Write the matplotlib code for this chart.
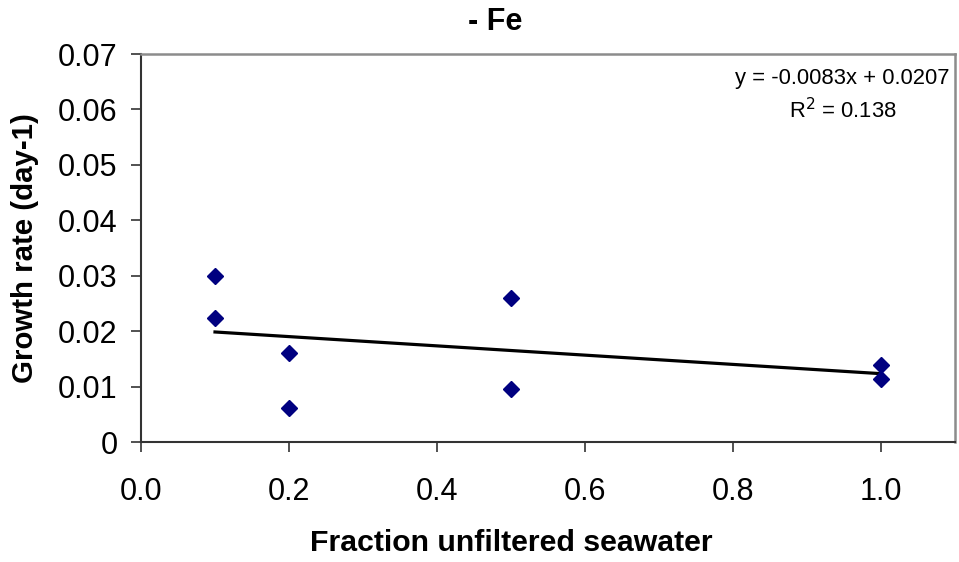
import numpy as np
import matplotlib
matplotlib.use("Agg")
import matplotlib.pyplot as plt

plt.rcParams["font.family"] = ["Liberation Sans", "DejaVu Sans"]

# ── Data ──────────────────────────────────────────────────────────────────────
fraction = [0.1, 0.1, 0.2, 0.2, 0.5, 0.5, 1.0, 1.0]
growth   = [0.030, 0.0223, 0.0161, 0.0062, 0.0260, 0.0095, 0.0139, 0.0114]
x_ticks  = [0.0, 0.2, 0.4, 0.6, 0.8, 1.0]
y_ticks  = [0, 0.01, 0.02, 0.03, 0.04, 0.05, 0.06, 0.07]
y_labels = ["0", "0.01", "0.02", "0.03", "0.04", "0.05", "0.06", "0.07"]

# linear trendline
slope, intercept = np.polyfit(fraction, growth, 1)
x_fit = np.array([min(fraction), max(fraction)])
y_fit = slope * x_fit + intercept

# ── Plot ──────────────────────────────────────────────────────────────────────
fig = plt.figure(figsize=(9.59, 5.62), dpi=100)
ax = fig.add_axes([141 / 959, 1 - 442 / 562, (955 - 141) / 959, (442 - 54) / 562])

ax.plot(x_fit, y_fit, color="black", linewidth=2.3, zorder=2)
ax.plot(fraction, growth, linestyle="none", marker="D", markersize=7.8,
        color="#000080", zorder=3)

ax.set_xlim(0, 1.1)
ax.set_ylim(0, 0.07)
ax.set_xticks(x_ticks)
ax.set_xticklabels([f"{v:.1f}" for v in x_ticks])
ax.set_yticks(y_ticks)
ax.set_yticklabels(y_labels)
ax.tick_params(direction="out", length=7, width=1.2, color="#333333",
               labelsize=22)
ax.tick_params(axis="y", pad=10)
ax.tick_params(axis="x", pad=18)

for side in ("left", "bottom"):
    ax.spines[side].set_color("#333333")
    ax.spines[side].set_linewidth(1.5)
for side in ("top", "right"):
    ax.spines[side].set_color("#8c8c8c")
    ax.spines[side].set_linewidth(1.8)

fig.text(0.516, 0.961, "- Fe", ha="center", va="center",
         fontsize=22, fontweight="bold")
fig.text(0.533, 0.034, "Fraction unfiltered seawater", ha="center",
         va="center", fontsize=21.8, fontweight="bold")
fig.text(0.026, 0.559, "Growth rate (day-1)", ha="center", va="center",
         rotation=90, fontsize=21.2, fontweight="bold")

ax.text(0.862, 0.937, "y = -0.0083x + 0.0207", transform=ax.transAxes,
        ha="center", va="center", fontsize=15.8)
ax.text(0.862, 0.855, "R$^2$ = 0.138", transform=ax.transAxes,
        ha="center", va="center", fontsize=15.8)

fig.savefig("out.png", dpi=100)
